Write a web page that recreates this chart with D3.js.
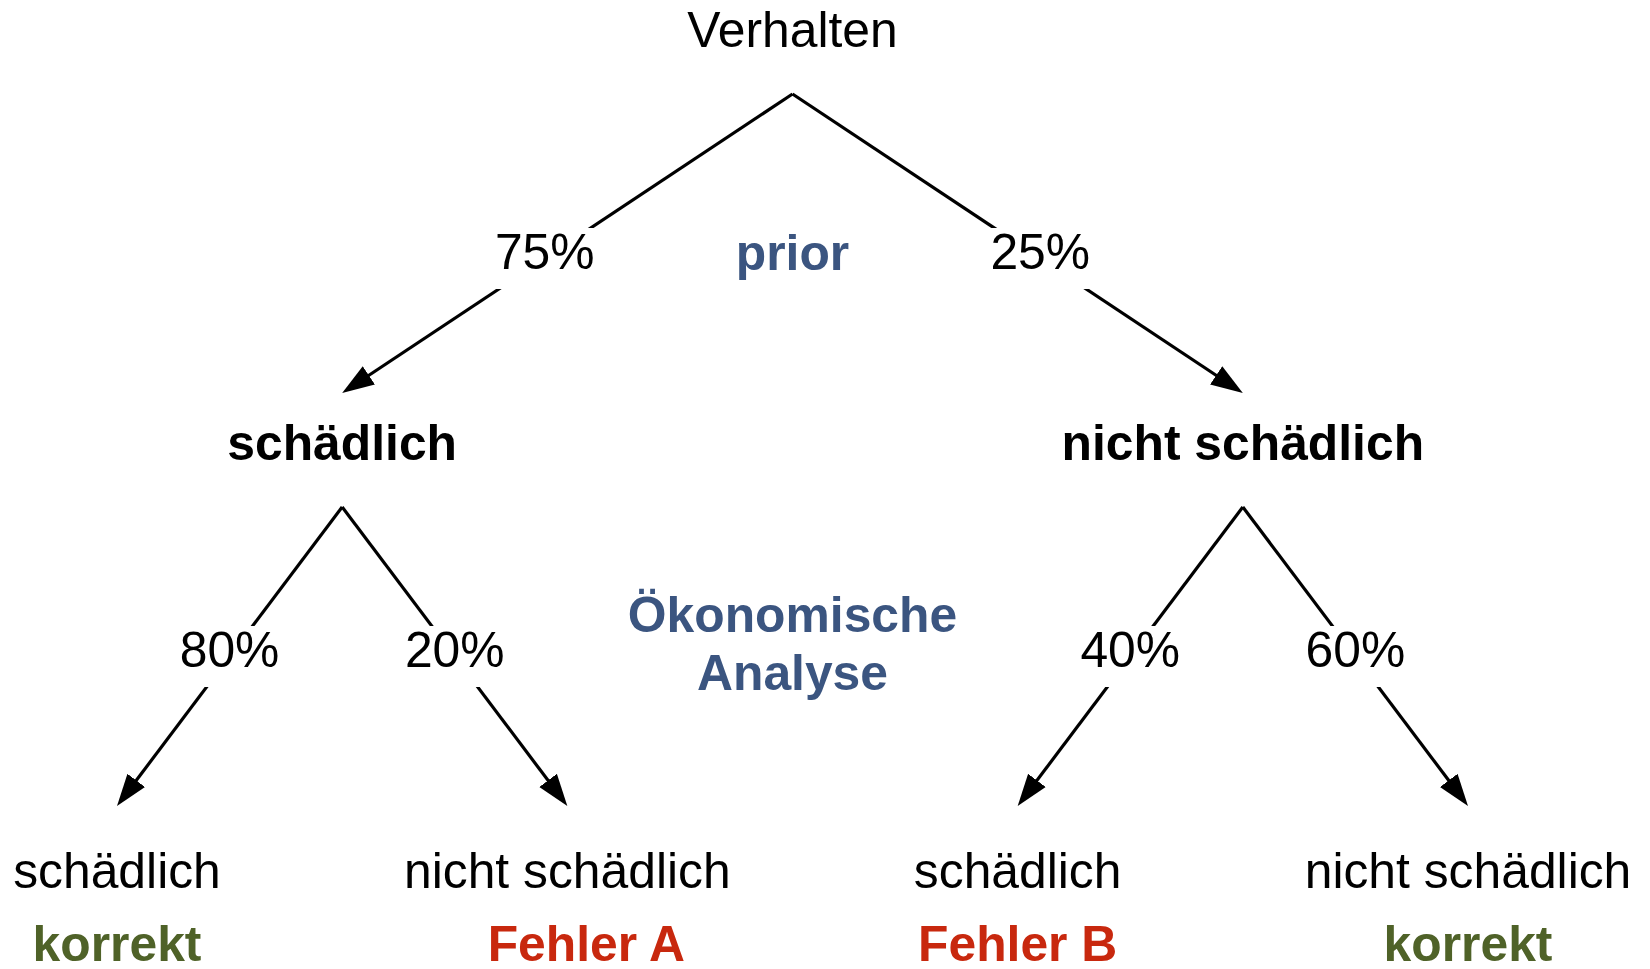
<!DOCTYPE html>
<html>
<head>
<meta charset="utf-8">
<script src="https://cdn.jsdelivr.net/npm/d3@7"></script>
<style>
	html, body { margin: 0; padding: 0; background: #fff; }
	svg { display: block; font-family: "Liberation Sans", Arial, sans-serif; }
</style>
</head>
<body>
<svg width="1650" height="969"></svg>
<script>
// Data
const root_label = "Verhalten";
const stage_names = [["prior"], ["Ökonomische", "Analyse"]];
const first_split = ["schädlich", "nicht schädlich"];
const first_prob = [75, 25];
const second_split = ["schädlich", "nicht schädlich"];
const second_prob = [[80, 20], [40, 60]];
const outcomes = [["korrekt", "Fehler A"], ["Fehler B", "korrekt"]];
const outcome_kind = [["ok", "error"], ["error", "ok"]];

// Layout
const font_size = 49.8;
const row_baseline = [47, 460, 888];
const edge_top = [94, 507];
const edge_bottom = [393, 806];
const label_center = [258.5, 656.5];
const label_box_height = 61;
const stage_baseline = [[270], [632, 690]];
const outcome_baseline = 961;
const outcome_shift = [[0, 19], [0, 0]];
const colors = {stage: "#3b5580", ok: "#4f6228", error: "#c8280e", ink: "#000"};

const svg = d3.select("svg");

// build the tree from the arrays
const tree_data = {
	name: root_label,
	children: first_split.map(function(name, i){
		return {
			name: name,
			prob: first_prob[i],
			children: second_split.map(function(leaf, j){
				return {name: leaf, prob: second_prob[i][j], outcome: outcomes[i][j],
					kind: outcome_kind[i][j], shift: outcome_shift[i][j]};
			})
		};
	})
};

const root = d3.hierarchy(tree_data);
d3.tree().size([1, 1]).separation(function(){ return 1; })(root);

// leaves span from the first to the last leaf position
const x = d3.scaleLinear()
	.domain(d3.extent(root.leaves(), function(d){ return d.x; }))
	.range([117, 1468]);

// arrow head
svg.append("defs").append("marker")
   .attr("id", "arrow")
   .attr("markerUnits", "userSpaceOnUse")
   .attr("viewBox", "0 -12 32 24")
   .attr("refX", 22)
   .attr("refY", 0)
   .attr("markerWidth", 32)
   .attr("markerHeight", 24)
   .attr("orient", "auto")
   .append("path")
   .attr("d", "M0,-11L32,0L0,11Z")
   .attr("fill", colors.ink);

draw_edges();
draw_nodes();
draw_stage_names();
draw_outcomes();

/**
 * Lines with arrows and the percentage on each branch
 */
function draw_edges(){
	const links = root.links().map(function(l){
		let d = l.source.depth;
		let x1 = x(l.source.x), y1 = edge_top[d];
		let x2 = x(l.target.x), y2 = edge_bottom[d];
		let len = Math.hypot(x2 - x1, y2 - y1);
		let t = (label_center[d] - y1) / (y2 - y1);
		return {
			x1: x1, y1: y1,
			x2: x2 - (x2 - x1) / len * 10,
			y2: y2 - (y2 - y1) / len * 10,
			lx: x1 + t * (x2 - x1),
			ly: label_center[d],
			prob: l.target.data.prob
		};
	});

	svg.append("g").selectAll("line")
	   .data(links)
	   .enter()
	   .append("line")
	   .attr("x1", function(d){ return d.x1; })
	   .attr("y1", function(d){ return d.y1; })
	   .attr("x2", function(d){ return d.x2; })
	   .attr("y2", function(d){ return d.y2; })
	   .attr("stroke", colors.ink)
	   .attr("stroke-width", 3.2)
	   .attr("marker-end", "url(#arrow)");

	let labels = svg.append("g").selectAll("g")
	   .data(links)
	   .enter()
	   .append("g");

	labels.append("text")
	   .attr("x", function(d){ return d.lx; })
	   .attr("y", function(d){ return d.ly + 10.5; })
	   .attr("text-anchor", "middle")
	   .attr("font-size", font_size)
	   .text(function(d){ return `${d.prob}%`; });

	// white box behind the label cuts the line
	labels.each(function(d){
		let g = d3.select(this);
		let box = g.select("text").node().getBBox();
		g.insert("rect", "text")
		 .attr("x", box.x - 6)
		 .attr("y", d.ly - label_box_height / 2)
		 .attr("width", box.width + 12)
		 .attr("height", label_box_height)
		 .attr("fill", "#fff");
	});
}

function draw_nodes(){
	svg.append("g").selectAll("text")
	   .data(root.descendants())
	   .enter()
	   .append("text")
	   .attr("x", function(d){ return x(d.x); })
	   .attr("y", function(d){ return row_baseline[d.depth]; })
	   .attr("text-anchor", "middle")
	   .attr("font-size", font_size)
	   .attr("font-weight", function(d){ return d.depth == 1 ? "bold" : "normal"; })
	   .attr("fill", colors.ink)
	   .text(function(d){ return d.data.name; });
}

function draw_stage_names(){
	stage_names.forEach(function(lines, i){
		let t = svg.append("text")
		   .attr("text-anchor", "middle")
		   .attr("font-size", font_size)
		   .attr("font-weight", "bold")
		   .attr("fill", colors.stage);
		lines.forEach(function(line, j){
			t.append("tspan")
			 .attr("x", x(root.x))
			 .attr("y", stage_baseline[i][j])
			 .text(line);
		});
	});
}

function draw_outcomes(){
	svg.append("g").selectAll("text")
	   .data(root.leaves())
	   .enter()
	   .append("text")
	   .attr("x", function(d){ return x(d.x) + d.data.shift; })
	   .attr("y", outcome_baseline)
	   .attr("text-anchor", "middle")
	   .attr("font-size", font_size)
	   .attr("font-weight", "bold")
	   .attr("fill", function(d){ return colors[d.data.kind]; })
	   .text(function(d){ return d.data.outcome; });
}
</script>
</body>
</html>
